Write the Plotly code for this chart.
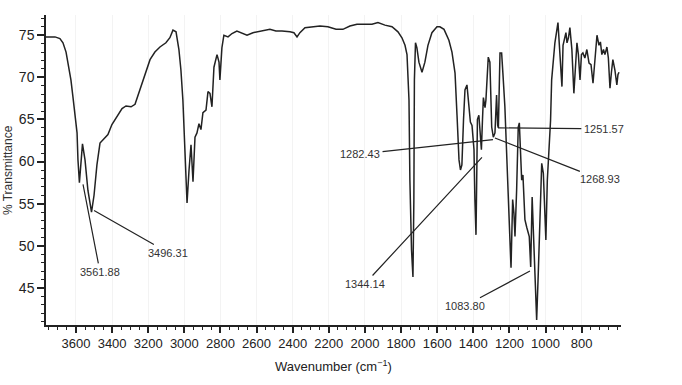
import plotly.graph_objects as go

# Spectrum (wavenumber cm^-1, % transmittance)
wavenumber = [
    3766, 3716, 3689, 3672, 3655, 3644, 3628, 3617, 3606, 3594, 3589, 3581, 3564, 3550, 3534, 3514,
    3500, 3484, 3467, 3445, 3423, 3401, 3373, 3345, 3323, 3295, 3273, 3246, 3218, 3190, 3163, 3135,
    3102, 3080, 3063, 3046, 3030, 3019, 3008, 2996, 2985, 2974, 2963, 2952, 2941, 2930, 2919, 2908,
    2897, 2880, 2869, 2858, 2847, 2836, 2819, 2808, 2803, 2792, 2781, 2758,
    2736, 2709, 2681, 2653, 2620, 2592, 2559, 2526, 2493, 2459, 2415, 2393, 2376, 2360, 2332, 2293,
    2249, 2205, 2160, 2122, 2083, 2044, 2000, 1961, 1928, 1889, 1850, 1817, 1795, 1778, 1767, 1756,
    1751, 1742, 1734, 1729, 1726, 1720, 1712, 1701, 1684, 1668, 1651, 1629, 1601, 1585, 1562, 1535,
    1518, 1501, 1490, 1479, 1471, 1463, 1454, 1446, 1435, 1424, 1416, 1407, 1396, 1391, 1385, 1381,
    1377, 1369, 1360, 1355, 1349, 1344, 1335, 1330, 1317, 1308, 1298, 1289, 1280, 1271, 1265, 1261,
    1252, 1243, 1236, 1225, 1216, 1206, 1197, 1191, 1182, 1175, 1169, 1160, 1151, 1145, 1138, 1132,
    1125, 1114, 1104, 1090, 1082, 1074, 1068, 1059, 1049, 1040, 1031, 1021, 1012, 1003, 998, 990,
    979, 972, 966, 957, 948, 931, 920, 909, 903, 887, 881, 873, 865, 854, 843, 834,
    826, 818, 809, 801, 793, 782, 771, 759, 748, 737, 726, 715, 704, 696, 688, 679,
    671, 660, 652, 643, 635, 627, 616, 605, 599, 593,
]
transmittance = [
    74.8, 74.8, 74.6, 74.1, 73.0, 71.7, 69.7, 67.7, 65.5, 63.4, 60.2, 57.5, 62.1, 60.2, 56.6, 54.0,
    56.0, 59.6, 62.2, 62.7, 63.2, 64.4, 65.3, 66.3, 66.6, 66.5, 66.8, 68.5, 70.4, 72.1, 73.0, 73.6,
    74.1, 74.7, 75.6, 75.4, 73.3, 70.9, 67.3, 61.4, 55.1, 59.0, 62.0, 57.6, 62.9, 63.4, 64.5, 63.8,
    65.8, 66.1, 68.3, 68.1, 66.5, 71.2, 72.7, 71.8, 69.7, 73.5, 75.0, 74.8,
    75.2, 75.5, 75.2, 75.0, 75.3, 75.4, 75.5, 75.7, 75.5, 75.5, 75.4, 75.3, 74.8, 75.3, 75.9, 76.0,
    76.1, 76.0, 75.7, 75.7, 76.1, 76.3, 76.3, 76.3, 76.5, 76.2, 76.0, 75.4, 74.7, 73.8, 72.7, 67.3,
    57.8, 49.5, 46.3, 55.4, 69.7, 74.1, 73.5, 71.8, 70.6, 71.8, 73.8, 75.3, 76.0, 76.0, 75.7, 74.4,
    73.0, 70.5, 65.5, 60.2, 59.0, 59.6, 65.0, 68.5, 69.1, 66.1, 64.7, 64.3, 61.4, 55.5, 51.3, 57.8,
    65.0, 65.5, 63.2, 61.4, 65.0, 67.6, 66.4, 67.3, 72.4, 71.8, 64.1, 62.9, 63.4, 67.9, 64.3, 64.0,
    72.9, 72.9, 70.5, 66.5, 61.4, 54.6, 50.7, 47.4, 55.5, 53.9, 51.1, 56.6, 64.1, 64.6, 61.4, 57.8,
    58.4, 53.1, 52.2, 51.1, 47.5, 55.8, 52.2, 46.0, 41.2, 46.8, 52.2, 59.8, 58.6, 53.9, 50.7, 57.8,
    62.6, 64.9, 69.7, 72.1, 74.1, 76.5, 73.3, 68.9, 73.8, 75.3, 74.1, 74.7, 75.9, 73.3, 68.1, 72.1,
    74.1, 72.7, 69.7, 72.7, 72.9, 72.3, 73.3, 71.7, 71.5, 69.3, 72.1, 75.0, 73.8, 74.2, 72.7, 73.3,
    72.7, 73.6, 72.3, 68.7, 70.6, 72.1, 70.9, 69.1, 70.3, 70.6,
]

# Peak labels: text, pointed position, text position
peak_labels = ["3561.88", "3496.31", "1282.43", "1251.57", "1268.93", "1344.14", "1083.80"]
peak_wn = [3561, 3500, 1291, 1263, 1280, 1352, 1086]
peak_t = [57.3, 54.2, 62.6, 64.0, 62.8, 60.5, 47.0]
label_wn = [3467, 3091, 2027, 677, 699, 2000, 1446]
label_t = [46.9, 49.2, 60.9, 63.9, 57.9, 45.5, 42.9]

x_ticks = [3600, 3400, 3200, 3000, 2800, 2600, 2400, 2200, 2000, 1800, 1600, 1400, 1200, 1000, 800]
y_ticks = [45, 50, 55, 60, 65, 70, 75]

FONT = "Liberation Sans, Arial, sans-serif"
INK = "#222222"

fig = go.Figure()
fig.add_trace(go.Scatter(
    x=wavenumber, y=transmittance, mode="lines",
    line=dict(color=INK, width=1.5), hoverinfo="skip", showlegend=False,
))

for txt, px, py, tx, ty in zip(peak_labels, peak_wn, peak_t, label_wn, label_t):
    fig.add_annotation(
        x=px, y=py, ax=tx, ay=ty, xref="x", yref="y", axref="x", ayref="y",
        text=txt, showarrow=True, arrowhead=0, arrowwidth=1.2, arrowcolor=INK,
        standoff=0, startstandoff=1,
        font=dict(family=FONT, size=11, color="#333333"),
    )

fig.add_annotation(
    text="% Transmittance", xref="paper", yref="paper", x=-0.066, y=0.5,
    textangle=-90, showarrow=False, xanchor="center", yanchor="middle",
    font=dict(family=FONT, size=12, color="#333333"),
)

fig.update_layout(
    width=682, height=385,
    margin=dict(l=46, r=61, t=15, b=60),
    paper_bgcolor="white", plot_bgcolor="white",
    font=dict(family=FONT, color=INK),
    xaxis=dict(
        range=[3766, 582], tickvals=x_ticks, ticks="outside", ticklen=6, tickwidth=1.5,
        tickcolor=INK, showline=True, linecolor=INK, linewidth=1.5,
        showgrid=True, gridcolor="#f3f3f3", gridwidth=1, zeroline=False,
        minor=dict(dtick=50, tick0=0, ticks="outside", ticklen=3, tickwidth=1.2, tickcolor=INK, showgrid=False),
        tickfont=dict(family=FONT, size=13, color=INK),
        title=dict(text="Wavenumber (cm<sup>−1</sup>)", font=dict(family=FONT, size=13, color=INK), standoff=12),
        mirror=False,
    ),
    yaxis=dict(
        range=[40.6, 77.4], tickvals=y_ticks, ticks="outside", ticklen=7, tickwidth=1.5,
        tickcolor=INK, showline=True, linecolor=INK, linewidth=1.5,
        showgrid=False, zeroline=False,
        minor=dict(dtick=1, tick0=0, ticks="outside", ticklen=3, tickwidth=1.2, tickcolor=INK),
        tickfont=dict(family=FONT, size=14, color=INK),
        mirror=False,
    ),
)

fig.write_html("out.html")
